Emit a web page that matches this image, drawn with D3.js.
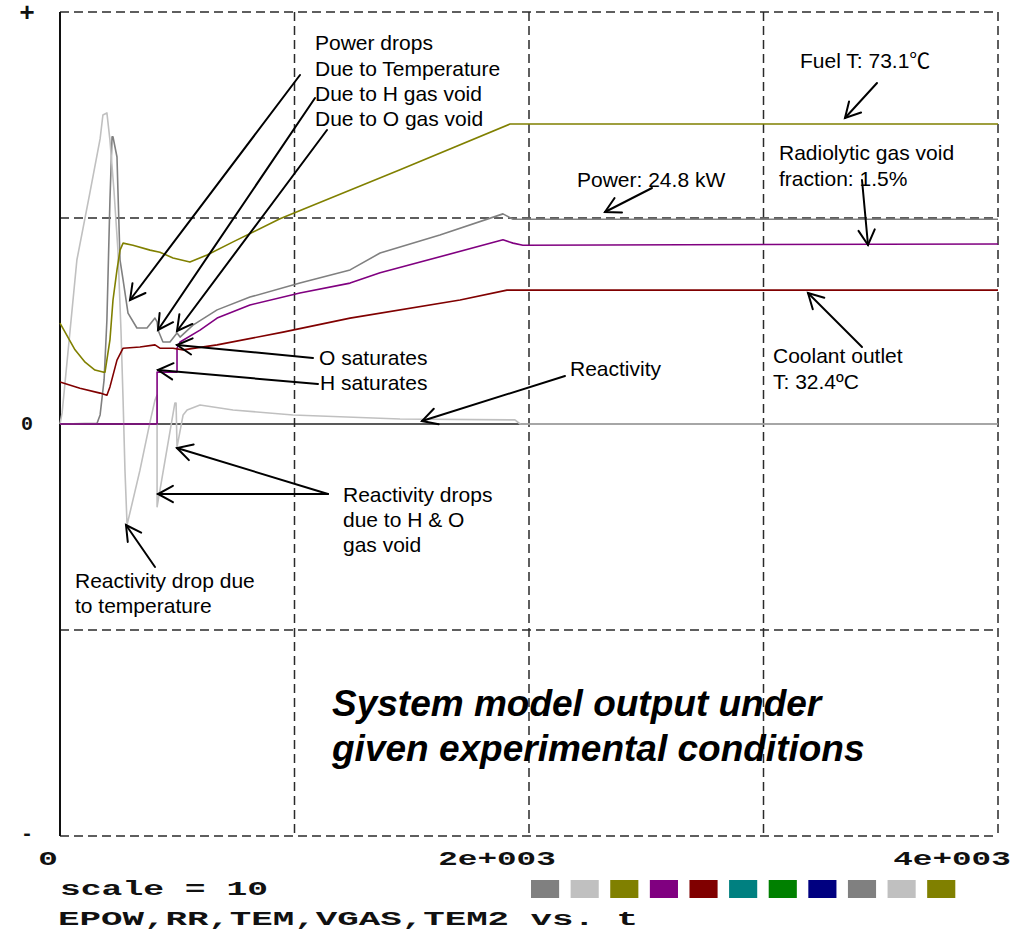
<!DOCTYPE html>
<html>
<head>
<meta charset="utf-8">
<script src="https://cdn.jsdelivr.net/npm/d3@7"></script>
<style>
  body { margin: 0; background: #fff; }
  svg { display: block; }
</style>
</head>
<body>
<svg id="chart" width="1028" height="950"></svg>
<script>
// ---- axis ticks and labels ----
const timeTicks = [0, 2000, 4000];
const timeTickLabels = ["0", "2e+003", "4e+003"];
const gridTimes = [1000, 2000, 3000];
const gridLevels = [0.5, -0.5];
const levelValues = [1, 0, -1];
const levelLabels = ["+", "0", "-"];
const scaleText = "scale = 10";
const seriesTitle = "EPOW,RR,TEM,VGAS,TEM2 vs. t";
const paletteColors = ["#808080", "#c0c0c0", "#808000", "#800080", "#800000",
                       "#008080", "#008000", "#000080", "#808080", "#c0c0c0", "#808000"];

// ---- series (time in s, value in plot units, scale = 10) ----
// EPOW: reactor power
const epowT = [0, 158, 171, 188, 200, 213, 222, 226, 243, 247, 256, 269, 290, 328, 371, 405, 414, 418,
               439, 469, 499, 512, 567, 670, 810, 1023, 1237, 1365, 1620, 1889, 1932, 4000];
const epowV = [0, 0.002, 0.022, 0.107, 0.252, 0.544, 0.697, 0.697, 0.648, 0.568, 0.398, 0.350, 0.269,
               0.233, 0.233, 0.257, 0.248, 0.228, 0.199, 0.199, 0.221, 0.211, 0.240, 0.277, 0.308, 0.342,
               0.374, 0.415, 0.459, 0.510, 0.497, 0.497];
// RR: reactivity
const rrT = [0, 9, 72, 128, 171, 183, 200, 213, 230, 247, 260, 269, 277, 286, 341, 384, 405, 414, 414,
             490, 495, 499, 525, 542, 597, 738, 994, 1450, 1940, 1962, 4000];
const rrV = [0, 0.027, 0.398, 0.563, 0.692, 0.750, 0.755, 0.689, 0.568, 0.422, 0.228, 0.058, -0.112,
             -0.245, -0.112, 0.005, 0.058, 0.070, -0.201, 0.051, 0.051, -0.056, 0.022, 0.034, 0.046,
             0.034, 0.022, 0.012, 0.010, 0, 0];
// TEM: fuel temperature
const temT = [0, 64, 107, 149, 183, 192, 213, 226, 243, 256, 269, 311, 384, 426, 482, 554, 627, 738,
              938, 1450, 1919, 4000];
const temV = [0.245, 0.180, 0.150, 0.131, 0.126, 0.126, 0.204, 0.301, 0.374, 0.422, 0.439, 0.434, 0.422,
              0.417, 0.403, 0.393, 0.410, 0.442, 0.498, 0.617, 0.728, 0.728];
// VGAS: radiolytic gas void fraction
const vgasT = [0, 414, 414, 499, 499, 512, 597, 670, 810, 1023, 1237, 1365, 1889, 1932, 1974, 4000];
const vgasV = [0, 0, 0.126, 0.126, 0.184, 0.199, 0.228, 0.257, 0.289, 0.318, 0.342, 0.367, 0.447, 0.439,
               0.434, 0.437];
// TEM2: coolant outlet temperature
const tem2T = [0, 85, 171, 200, 213, 243, 269, 341, 405, 426, 482, 525, 670, 951, 1237, 1706, 1906, 4000];
const tem2V = [0.102, 0.087, 0.075, 0.070, 0.090, 0.155, 0.184, 0.187, 0.192, 0.184, 0.184, 0.180, 0.192,
               0.223, 0.257, 0.301, 0.325, 0.325];

const seriesList = [
  { name: "EPOW", t: epowT, v: epowV, color: paletteColors[0] },
  { name: "RR",   t: rrT,   v: rrV,   color: paletteColors[1] },
  { name: "TEM",  t: temT,  v: temV,  color: paletteColors[2] },
  { name: "VGAS", t: vgasT, v: vgasV, color: paletteColors[3] },
  { name: "TEM2", t: tem2T, v: tem2V, color: paletteColors[4] }
];

// ---- drawing ----
const svg = d3.select("#chart");
const x = d3.scaleLinear().domain([0, 4000]).range([60, 998]);
const y = d3.scaleLinear().domain([-1, 1]).range([836, 12]);

const sans = "'Liberation Sans', Arial, sans-serif";
const mono = "'Liberation Mono', 'DejaVu Sans Mono', monospace";
const gridColor = "#2a2a2a";
const dash = "9,5";

const frame = svg.append("g");
// dashed grid and outer box
frame.selectAll(".vgrid").data(gridTimes.concat([4000])).join("line")
  .attr("x1", d => x(d)).attr("x2", d => x(d))
  .attr("y1", y(1)).attr("y2", y(-1))
  .attr("stroke", gridColor).attr("stroke-width", 1.5).attr("stroke-dasharray", dash);
frame.selectAll(".hgrid").data(gridLevels.concat([1, -1])).join("line")
  .attr("x1", x(0)).attr("x2", x(4000))
  .attr("y1", d => y(d)).attr("y2", d => y(d))
  .attr("stroke", gridColor).attr("stroke-width", 1.5).attr("stroke-dasharray", dash);
// solid axis lines
frame.append("line").attr("x1", x(0)).attr("x2", x(0)).attr("y1", y(1)).attr("y2", y(-1))
  .attr("stroke", "#111").attr("stroke-width", 2);
frame.append("line").attr("x1", x(0)).attr("x2", x(4000)).attr("y1", y(0)).attr("y2", y(0))
  .attr("stroke", "#222").attr("stroke-width", 1.5);

// level labels on the left
svg.selectAll(".lvl").data(levelValues).join("text")
  .attr("x", 27).attr("y", (d, i) => y(d) + [9, 6, 4][i])
  .attr("text-anchor", "middle")
  .attr("font-family", mono).attr("font-weight", "bold")
  .attr("font-size", (d, i) => i === 0 ? 26 : 20)
  .attr("fill", "#111")
  .text((d, i) => levelLabels[i]);

// time tick labels
const tickOffsets = [-12, -32, -46];
svg.selectAll(".tick").data(timeTicks).join("text")
  .attr("x", (d, i) => x(d) + tickOffsets[i]).attr("y", 865)
  .attr("text-anchor", "middle")
  .attr("font-family", mono).attr("font-weight", "bold").attr("font-size", 20).attr("fill", "#111")
  .attr("textLength", (d, i) => timeTickLabels[i].length * 19.6)
  .attr("lengthAdjust", "spacingAndGlyphs")
  .text((d, i) => timeTickLabels[i]);

// series curves
const line = d3.line().x(d => x(d[0])).y(d => y(d[1]));
svg.append("g").selectAll("path").data(seriesList).join("path")
  .attr("d", s => line(s.t.map((t, i) => [t, s.v[i]])))
  .attr("fill", "none")
  .attr("stroke", s => s.color)
  .attr("stroke-width", 1.6)
  .attr("stroke-linejoin", "round");

// annotation arrows (tail -> tip, in pixels)
const arrows = [
  [300, 75, 130, 300], [315, 98, 158, 330], [327, 130, 177, 331],
  [877, 83, 845, 118], [652, 188, 605, 212], [862, 180, 868, 245],
  [862, 347, 808, 293], [565, 376, 422, 421], [313, 358, 177, 345],
  [318, 384, 158, 370], [328, 494, 177, 448], [328, 494, 158, 494],
  [155, 567, 126, 525]
];
const ag = svg.append("g").attr("stroke", "#000").attr("stroke-width", 2).attr("fill", "none")
  .attr("stroke-linecap", "round");
arrows.forEach(([x1, y1, x2, y2]) => {
  const ang = Math.atan2(y1 - y2, x1 - x2);
  const L = 17, spread = 0.5;
  ag.append("line").attr("x1", x1).attr("y1", y1).attr("x2", x2).attr("y2", y2);
  ag.append("path").attr("d",
    `M${x2 + L * Math.cos(ang + spread)},${y2 + L * Math.sin(ang + spread)}` +
    `L${x2},${y2}` +
    `L${x2 + L * Math.cos(ang - spread)},${y2 + L * Math.sin(ang - spread)}`);
});

// annotation texts
const notes = [
  ["Power drops", 315, 50], ["Due to Temperature", 315, 76], ["Due to H gas void", 315, 101],
  ["Due to O gas void", 315, 126], ["Power: 24.8 kW", 577, 187],
  ["Radiolytic gas void", 779, 160], ["fraction: 1.5%", 779, 186],
  ["O saturates", 319, 365], ["H saturates", 320, 390], ["Reactivity", 570, 376],
  ["Coolant outlet", 773, 363], ["T: 32.4ºC", 773, 389],
  ["Reactivity drops", 343, 502], ["due to H & O", 343, 527], ["gas void", 343, 552],
  ["Reactivity drop due", 75, 588], ["to temperature", 75, 613]
];
svg.append("g").selectAll("text").data(notes).join("text")
  .attr("x", d => d[1]).attr("y", d => d[2])
  .attr("font-family", sans).attr("font-size", 21).attr("fill", "#000")
  .text(d => d[0]);
const fuel = svg.append("text").attr("x", 800).attr("y", 68)
  .attr("font-family", sans).attr("font-size", 21).attr("fill", "#000");
fuel.append("tspan").text("Fuel T: 73.1");
fuel.append("tspan").attr("font-family", "'Noto Sans CJK SC', 'DejaVu Serif', serif").text("℃");

// caption
const cap = svg.append("g").attr("font-family", sans).attr("font-size", 37)
  .attr("font-weight", "bold").attr("font-style", "italic").attr("fill", "#000");
cap.append("text").attr("x", 332).attr("y", 716).text("System model output under");
cap.append("text").attr("x", 332).attr("y", 761).text("given experimental conditions");

// footer: scale and colour legend
svg.append("text").attr("x", 60).attr("y", 895)
  .attr("font-family", mono).attr("font-weight", "bold").attr("font-size", 20).attr("fill", "#111")
  .attr("textLength", 208).attr("lengthAdjust", "spacingAndGlyphs").text(scaleText);
svg.append("text").attr("x", 58).attr("y", 925)
  .attr("font-family", mono).attr("font-weight", "bold").attr("font-size", 20).attr("fill", "#111")
  .attr("textLength", 580).attr("lengthAdjust", "spacingAndGlyphs").text(seriesTitle);
const sq = d3.scaleBand().domain(d3.range(paletteColors.length)).range([531, 944 + 11.3])
  .paddingInner(0.29).paddingOuter(0);
svg.append("g").selectAll("rect").data(paletteColors).join("rect")
  .attr("x", (d, i) => sq(i)).attr("y", 880)
  .attr("width", sq.bandwidth()).attr("height", 18)
  .attr("fill", d => d);
</script>
</body>
</html>
